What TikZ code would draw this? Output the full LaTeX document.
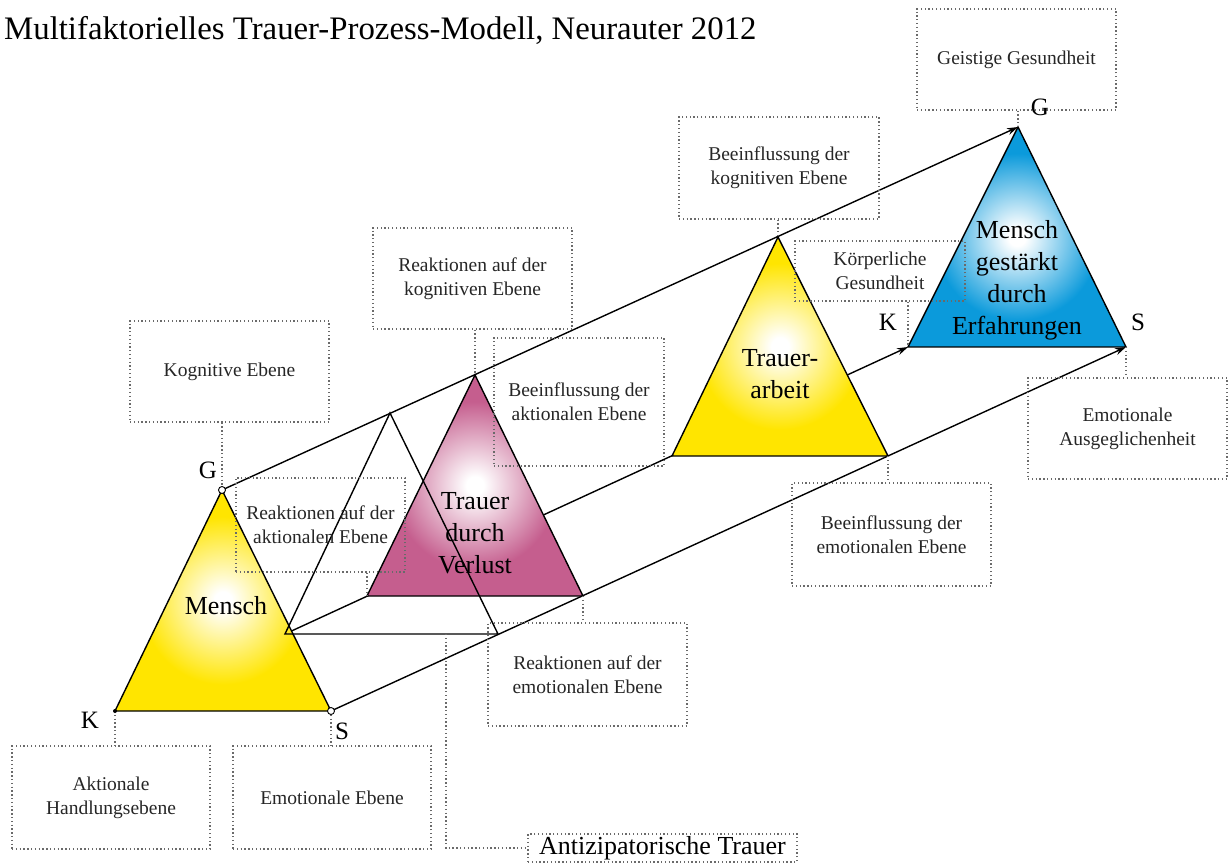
\documentclass[tikz,border=0pt]{standalone}
\usepackage{fontspec}
\setmainfont{Liberation Serif}
\usetikzlibrary{arrows.meta,calc}

\definecolor{tyellow}{HTML}{FFE500}
\definecolor{tpink}{HTML}{C55E8E}
\definecolor{tblue}{HTML}{0B9ADB}
\definecolor{dotgray}{HTML}{6A6A6A}

% soft white glow in the middle of each triangle
\pgfdeclareradialshading{glowyellow}{\pgfpoint{0bp}{0bp}}%
  {color(0bp)=(white);color(2bp)=(white);color(19bp)=(tyellow);color(50bp)=(tyellow)}
\pgfdeclareradialshading{glowpink}{\pgfpoint{0bp}{0bp}}%
  {color(0bp)=(white);color(2bp)=(white);color(19bp)=(tpink);color(50bp)=(tpink)}
\pgfdeclareradialshading{glowblue}{\pgfpoint{0bp}{0bp}}%
  {color(0bp)=(white);color(2bp)=(white);color(19bp)=(tblue);color(50bp)=(tblue)}

\begin{document}
\begin{tikzpicture}[x=1pt,y=-1pt,
  tri/.style={draw=black, line width=1.4pt, line join=miter},
  flow/.style={line width=1.4pt, -{Stealth[length=11pt,width=7pt]}},
  link/.style={draw=dotgray, line width=1.3pt, dash pattern=on 1.3pt off 2.5pt},
  box/.style={link, inner sep=0pt, align=center, text=black!85,
              font=\fontsize{19.5}{24}\selectfont},
  boxsize/.style 2 args={minimum width=#1, minimum height=#2},
  trilabel/.style={align=center, inner sep=0pt, font=\fontsize{26}{32}\selectfont},
  corner/.style={inner sep=0pt, font=\fontsize{25}{25}\selectfont},
  vertexmark/.style={circle, draw=black, fill=white, line width=0.9pt,
                     inner sep=0pt, minimum size=7pt},
  vertexdot/.style={circle, fill=black, inner sep=0pt, minimum size=4pt}]

\useasboundingbox (0,0) rectangle (1229,866);

% title
\node[anchor=base west, inner sep=0pt, font=\fontsize{32.8}{33}\selectfont]
  (title) at (4,40) {Multifaktorielles Trauer-Prozess-Modell, Neurauter 2012};

% triangle corners
\coordinate (mG) at (222,490);  \coordinate (mK) at (115,711);  \coordinate (mS) at (331,711);
\coordinate (oA) at (390,413);  \coordinate (oB) at (285,634);  \coordinate (oC) at (498,634);
\coordinate (oM) at (446,634);
\coordinate (pA) at (475,375);  \coordinate (pBL) at (367,596); \coordinate (pBR) at (583,596);
\coordinate (tA) at (778,237);  \coordinate (tBL) at (672,456); \coordinate (tBR) at (888,456);
\coordinate (bA) at (1018,127); \coordinate (bBL) at (908,347); \coordinate (bBR) at (1126,347);

% the three development lines
\draw[flow] (mG) -- (bA);
\draw[flow] (oB) -- (bBL);
\draw[flow] (mS) -- (bBR);

% filled triangles
\draw[tri, shade, shading=glowyellow] (mG) -- (mK) -- (mS) -- cycle;
\draw[tri, shade, shading=glowpink]   (pA) -- (pBL) -- (pBR) -- cycle;
\draw[tri, shade, shading=glowyellow] (tA) -- (tBL) -- (tBR) -- cycle;
\draw[tri, shade, shading=glowblue]   (bA) -- (bBL) -- (bBR) -- cycle;

% anticipated grief: open triangle
\draw[tri] (oA) -- (oB) -- (oC) -- cycle;

% triangle captions
\node[trilabel] (mensch) at (226,606) {Mensch};
\node[trilabel] (verlust) at (475,533) {Trauer\\durch\\Verlust};
\node[trilabel] (arbeit) at (780,374) {Trauer-\\arbeit};
\node[trilabel] (staerke) at (1017,280) {Mensch\\gestärkt\\durch\\Erfahrungen};

% dotted boxes
\node[box, boxsize={199pt}{101pt}] (geist) at (1016.5,59.5) {Geistige Gesundheit};
\node[box, boxsize={200pt}{102pt}] (bkog) at (779,168) {Beeinflussung der\\kognitiven Ebene};
\node[box, boxsize={170pt}{60pt}] (koerp) at (880,271) {Körperliche\\Gesundheit};
\node[box, boxsize={199pt}{101pt}] (emoaus) at (1127.5,428.5) {Emotionale\\Ausgeglichenheit};
\node[box, boxsize={199pt}{103pt}] (bemo) at (891.5,534.5) {Beeinflussung der\\emotionalen Ebene};
\node[box, boxsize={199pt}{101pt}] (rkog) at (472.5,278.5) {Reaktionen auf der\\kognitiven Ebene};
\node[box, boxsize={170pt}{128pt}] (bakt) at (579,402) {Beeinflussung der\\aktionalen Ebene};
\node[box, boxsize={199pt}{101pt}] (kog) at (229.5,371.5) {Kognitive Ebene};
\node[box, boxsize={169pt}{94pt}] (rakt) at (320.5,525) {Reaktionen auf der\\aktionalen Ebene};
\node[box, boxsize={199pt}{103pt}] (remo) at (587.5,674.5) {Reaktionen auf der\\emotionalen Ebene};
\node[box, boxsize={198pt}{103pt}] (akt) at (111,797.5) {Aktionale\\Handlungsebene};
\node[box, boxsize={198pt}{103pt}] (emo) at (332,797.5) {Emotionale Ebene};
\node[box, boxsize={269pt}{28pt}, font=\fontsize{26}{26}\selectfont, text=black]
  (antiz) at (662.5,848) {Antizipatorische Trauer};

% dotted links from boxes to corners
\draw[link] (bA |- geist.south) -- (bA);
\draw[link] (tA |- bkog.south) -- (tA);
\draw[link] (bBL |- koerp.south) -- (bBL);
\draw[link] (bBR) -- (bBR |- emoaus.north);
\draw[link] (tBR) -- (tBR |- bemo.north);
\draw[link] (pA |- rkog.south) -- (pA);
\draw[link] (mG |- kog.south) -- (mG);
\draw[link] (pBL |- rakt.south) -- (pBL);
\draw[link] (pBR) -- (pBR |- remo.north);
\draw[link] (mK) -- (mK |- akt.north);
\draw[link] (mS) -- (mS |- emo.north);
\draw[link] (oM) |- (antiz.west);

% corner letters
\node[corner] (lmG) at (208,470) {G};
\node[corner] (lmK) at (90,720) {K};
\node[corner] (lmS) at (342,731) {S};
\node[corner] (lbG) at (1040,107) {G};
\node[corner] (lbK) at (888,322) {K};
\node[corner] (lbS) at (1138,322) {S};

% corner marks of the first triangle
\node[vertexmark] (cG) at (mG) {};
\node[vertexmark] (cS) at (mS) {};
\node[vertexdot] (cK) at (mK) {};
\end{tikzpicture}
\end{document}
